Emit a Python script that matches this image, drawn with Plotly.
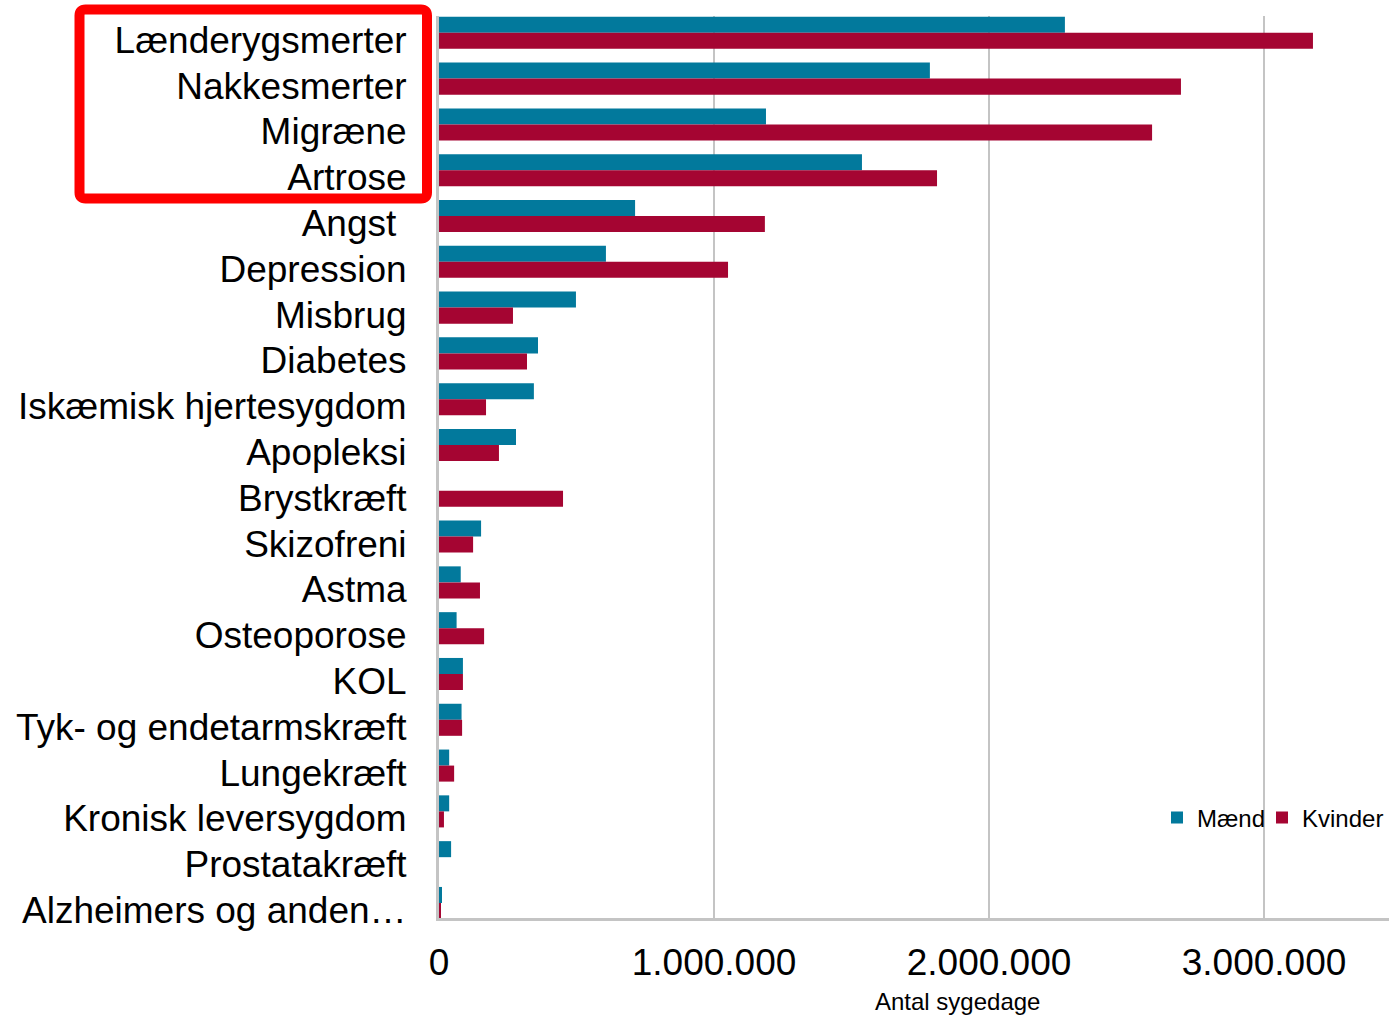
import plotly.graph_objects as go

categories = [
    "Lænderygsmerter", "Nakkesmerter", "Migræne", "Artrose", "Angst\u00a0",
    "Depression", "Misbrug", "Diabetes", "Iskæmisk hjertesygdom", "Apopleksi",
    "Brystkræft", "Skizofreni", "Astma", "Osteoporose", "KOL",
    "Tyk- og endetarmskræft", "Lungekræft", "Kronisk leversygdom",
    "Prostatakræft", "Alzheimers og anden…",
]
maend = [
    2276000, 1785000, 1189000, 1538000, 713000,
    607000, 498000, 360000, 345000, 280000,
    0, 153000, 79000, 64000, 87000,
    82000, 37000, 37000, 44000, 11000,
]
kvinder = [
    3178000, 2698000, 2593000, 1811000, 1185000,
    1051000, 269000, 320000, 171000, 218000,
    451000, 124000, 149000, 164000, 87000,
    84000, 55000, 18000, 0, 6000,
]
series_names = ["Mænd", "Kvinder"]
x_title = "Antal sygedage"

FONT = "Arial, Liberation Sans, sans-serif"
C_M = "#02799C"
C_K = "#A50532"
GRID = "#C4C4C4"

fig = go.Figure()
fig.add_trace(go.Bar(y=categories, x=maend, name=series_names[0], orientation="h",
                     marker=dict(color=C_M, line=dict(width=0)), legend="legend"))
fig.add_trace(go.Bar(y=categories, x=kvinder, name=series_names[1], orientation="h",
                     marker=dict(color=C_K, line=dict(width=0)), legend="legend2"))

W, H = 1389, 1015
L, R, T, B = 439, 0, 16, 97
pw = W - L - R
ph = H - T - B

def px_x(p):
    return (p - L) / pw

def px_y(p):
    return (H - B - p) / ph

# rounded red rectangle (annotation box around first four labels)
x0, x1 = px_x(79.5), px_x(427)
y0, y1 = px_y(198.5), px_y(9.5)
rx, ry = 6 / pw, 6 / ph
path = (f"M {x0+rx},{y1} L {x1-rx},{y1} Q {x1},{y1} {x1},{y1-ry} "
        f"L {x1},{y0+ry} Q {x1},{y0} {x1-rx},{y0} "
        f"L {x0+rx},{y0} Q {x0},{y0} {x0},{y0+ry} "
        f"L {x0},{y1-ry} Q {x0},{y1} {x0+rx},{y1} Z")

legend_common = dict(orientation="h", yanchor="middle", y=px_y(818),
                     font=dict(size=24, family=FONT, color="black"),
                     bgcolor="rgba(0,0,0,0)", itemwidth=30)

fig.update_layout(
    width=W, height=H,
    margin=dict(l=L, r=R, t=T, b=B, pad=0, autoexpand=False),
    plot_bgcolor="white", paper_bgcolor="white",
    separators=",.",
    barmode="group", bargap=0.30, bargroupgap=0,
    font=dict(family=FONT, color="black"),
    showlegend=True,
    legend=dict(x=px_x(1157), xanchor="left", **legend_common),
    legend2=dict(x=1.0, xanchor="right", **legend_common),
    xaxis=dict(range=[0, 3454500], tickvals=[0, 1000000, 2000000, 3000000],
               tickformat=",.0f", showgrid=True, gridcolor=GRID, gridwidth=2,
               zeroline=False, showline=True, linecolor=GRID, linewidth=3,
               ticks="", tickfont=dict(size=37, family=FONT, color="black"),
               ticklabelstandoff=10, fixedrange=True),
    yaxis=dict(type="category", categoryorder="array", categoryarray=categories,
               range=[19.328, -0.367], showgrid=False, zeroline=False,
               showline=True, linecolor=GRID, linewidth=3, ticks="",
               tickfont=dict(size=37, family=FONT, color="black"),
               ticklabelstandoff=22, ticklabelshift=-7),
    shapes=[
        dict(type="rect", xref="paper", yref="paper", x0=px_x(1180), x1=1.0,
             y0=px_y(905), y1=px_y(732), fillcolor="white", line=dict(width=0),
             layer="between"),
        dict(type="path", xref="paper", yref="paper", path=path,
             line=dict(color="#FF0000", width=10), fillcolor="rgba(0,0,0,0)"),
    ],
    annotations=[
        dict(text=x_title, xref="paper", yref="paper", x=px_x(957), y=px_y(1001),
             xanchor="center", yanchor="middle", showarrow=False,
             font=dict(size=24, family=FONT, color="black")),
    ],
)

fig.write_html("out.html", config={"displayModeBar": False},
               post_script="document.body.style.margin='0px';document.body.style.overflow='hidden';")
